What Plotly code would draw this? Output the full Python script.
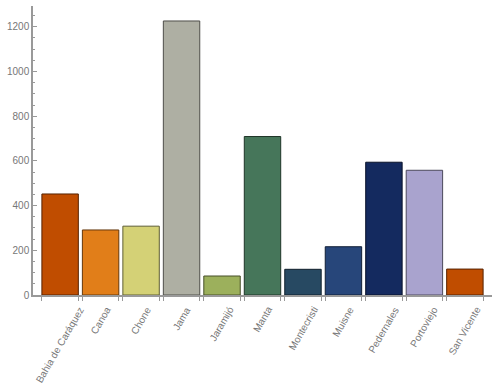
import plotly.graph_objects as go

categories = ["Bahia de Caráquez", "Canoa", "Chone", "Jama", "Jaramijó", "Manta",
              "Montecristi", "Muisne", "Pedernales", "Portoviejo", "San Vicente"]
values = [452, 291, 308, 1226, 85, 709, 115, 216, 594, 558, 116]
colors = ["#C04D00", "#E17E19", "#D4D176", "#AEAFA3", "#9CB05C", "#46765A",
          "#274962", "#27467A", "#142A5F", "#A9A3CE", "#C04D00"]
y_ticks = [0, 200, 400, 600, 800, 1000, 1200]


def darker(hexcol, f=0.45):
    h = hexcol.lstrip("#")
    r, g, b = (int(h[i:i + 2], 16) for i in (0, 2, 4))
    return "rgb(%d,%d,%d)" % (r * f, g * f, b * f)


idx = list(range(len(categories)))
bar_w = 0.9

fig = go.Figure()
fig.add_trace(go.Bar(
    x=idx, y=values, width=bar_w,
    marker=dict(color=colors, line=dict(color=[darker(c) for c in colors], width=1)),
    hoverinfo="skip", showlegend=False,
))
edges = []
for i in idx:
    edges += [i - bar_w / 2, i + bar_w / 2]
fig.add_trace(go.Scatter(x=[idx[0], idx[-1]], y=[0, 0], xaxis="x2", mode="markers",
                         marker=dict(opacity=0), showlegend=False, hoverinfo="skip"))

font = dict(family="Liberation Sans, Arial, sans-serif", size=10, color="#777777")

# category labels: rotated, centred under each bar, top-aligned
for i, name in zip(idx, categories):
    fig.add_annotation(x=i, y=0, xref="x", yref="y", text=name, showarrow=False,
                       textangle=-60, xanchor="center", yanchor="top", yshift=-7,
                       font=font)

xr = [-0.67, len(categories) - 1 + 0.67]
fig.update_layout(
    width=500, height=388,
    margin=dict(l=33, r=8, t=6, b=93),
    paper_bgcolor="white", plot_bgcolor="white",
    font=font,
    xaxis=dict(
        range=xr, tickmode="array", tickvals=idx, showticklabels=False,
        ticks="", showgrid=False, zeroline=False,
        showline=True, linecolor="#999999", linewidth=1.5, automargin=False,
    ),
    xaxis2=dict(
        range=xr, overlaying="x", tickmode="array", tickvals=edges,
        ticks="outside", ticklen=5, tickcolor="#999999", tickwidth=1,
        showticklabels=False, showgrid=False, zeroline=False, showline=False,
        anchor="y", side="bottom", automargin=False,
    ),
    yaxis=dict(
        range=[0, 1293], tickmode="array", tickvals=y_ticks,
        ticks="inside", ticklen=4, tickcolor="#999999", tickwidth=1,
        minor=dict(dtick=50, tick0=0, ticks="inside", ticklen=2, tickcolor="#999999", showgrid=False),
        showgrid=False, zeroline=False,
        showline=True, linecolor="#999999", linewidth=1.5,
        tickfont=font, automargin=False,
    ),
    bargap=0.1,
)

fig.write_html("out.html", config={"displayModeBar": False},
               post_script="document.body.style.margin='0';document.body.style.overflow='hidden';")
